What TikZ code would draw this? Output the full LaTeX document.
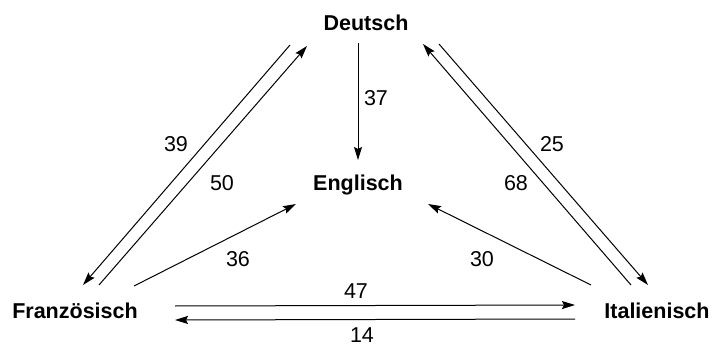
\documentclass[tikz,border=0pt]{standalone}
\usepackage{fontspec}
\setmainfont{Liberation Sans}
\usetikzlibrary{arrows.meta}
\begin{document}
\begin{tikzpicture}[x=1pt,y=-1pt,
  lang/.style={font=\fontsize{21.5}{24}\selectfont\bfseries, inner sep=0pt, anchor=base},
  num/.style={font=\fontsize{21.5}{24}\selectfont, inner sep=0pt, anchor=base},
  flow/.style={line width=1pt, -{Stealth[length=13pt,width=8pt,inset=2pt]}}]
\useasboundingbox (0,0) rectangle (716,345);

% languages
\node[lang] (D) at (366,31)  {Deutsch};
\node[lang] (E) at (358,190) {Englisch};
\node[lang] (F) at (75,318)  {Französisch};
\node[lang] (I) at (657,318) {Italienisch};

% flows between the languages
\draw[flow] ([shift={(-8,12)}]D.base)  -- ([shift={(0,-30)}]E.base);
\draw[flow] ([shift={(-76,14)}]D.base) -- ([shift={(8,-33)}]F.base);
\draw[flow] ([shift={(24,-33)}]F.base) -- ([shift={(-59,15)}]D.base);
\draw[flow] ([shift={(73,13)}]D.base)  -- ([shift={(-9,-33)}]I.base);
\draw[flow] ([shift={(-26,-33)}]I.base) -- ([shift={(57,13)}]D.base);
\draw[flow] ([shift={(59,-32)}]F.base) -- ([shift={(-62,14)}]E.base);
\draw[flow] ([shift={(-66,-33)}]I.base) -- ([shift={(70,14)}]E.base);
\draw[flow] ([shift={(100,-12)}]F.base) -- ([shift={(-82,-13)}]I.base);
\draw[flow] ([shift={(-82,1)}]I.base)  -- ([shift={(100,2)}]F.base);

% counts
\node[num] (n37) at (376,106) {37};
\node[num] (n39) at (176,152) {39};
\node[num] (n25) at (552,152) {25};
\node[num] (n50) at (222,190) {50};
\node[num] (n68) at (516,190) {68};
\node[num] (n36) at (238,266) {36};
\node[num] (n30) at (482,266) {30};
\node[num] (n47) at (356,298) {47};
\node[num] (n14) at (362,342) {14};
\end{tikzpicture}
\end{document}
